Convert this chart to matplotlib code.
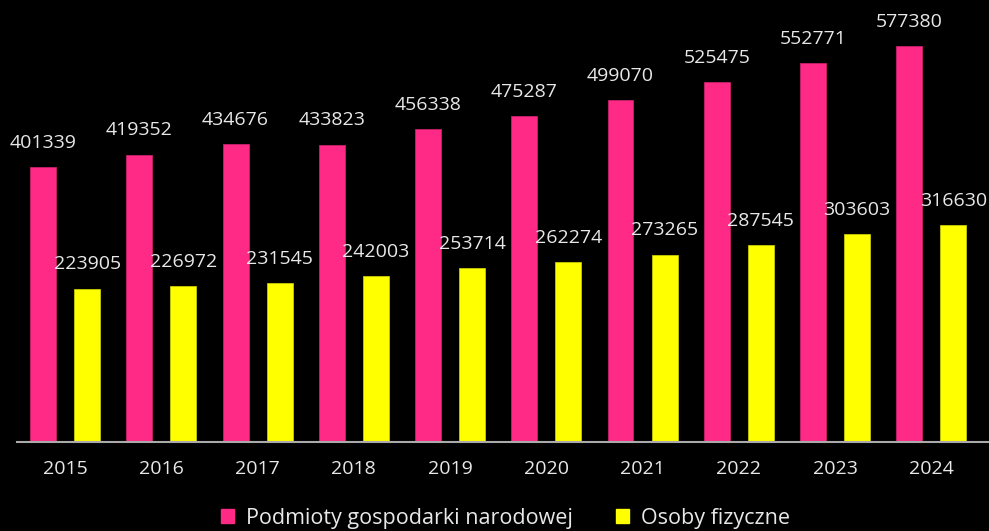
import numpy as np
import matplotlib
matplotlib.use("Agg")
import matplotlib.pyplot as plt
from matplotlib.patches import Patch

# dane
lata = ["2015", "2016", "2017", "2018", "2019", "2020", "2021", "2022", "2023", "2024"]
podmioty = [401339, 419352, 434676, 433823, 456338, 475287, 499070, 525475, 552771, 577380]
osoby = [223905, 226972, 231545, 242003, 253714, 262274, 273265, 287545, 303603, 316630]

kolor_podmioty = "#FF2A85"
kolor_osoby = "#FFFF00"
kolor_tekstu = "#E8E8E8"

plt.rcParams["font.family"] = ["Open Sans", "DejaVu Sans"]

fig = plt.figure(figsize=(9.89, 5.31), dpi=100, facecolor="black")
ax = fig.add_axes([17 / 989, 89 / 531, 972 / 989, 442 / 531])
ax.set_facecolor("black")

x = np.arange(len(lata))
szer = 0.27
off = 0.229
b1 = ax.bar(x - off, podmioty, szer, color=kolor_podmioty, edgecolor="#C8206A", linewidth=0.6,
            label="Podmioty gospodarki narodowej")
b2 = ax.bar(x + off, osoby, szer, color=kolor_osoby, edgecolor="#C8C800", linewidth=0.6,
            label="Osoby fizyczne")

for bars in (b1, b2):
    for r in bars:
        ax.annotate(str(int(r.get_height())), (r.get_x() + r.get_width() / 2, r.get_height()),
                    xytext=(0, 11), textcoords="offset points", ha="center", va="bottom",
                    color=kolor_tekstu, fontsize=14)

ax.set_xlim(-0.5, 9.6)
ax.set_ylim(0, 645000)
ax.set_xticks(x)
ax.set_xticklabels(lata, color=kolor_tekstu, fontsize=14)
ax.tick_params(axis="x", length=0, pad=13)
ax.set_yticks([])
for s in ["top", "right", "left"]:
    ax.spines[s].set_visible(False)
ax.spines["bottom"].set_color("#AAAAAA")
ax.spines["bottom"].set_linewidth(1.5)

handles = [Patch(color=kolor_podmioty), Patch(color=kolor_osoby)]
fig.legend(handles, ["Podmioty gospodarki narodowej", "Osoby fizyczne"], loc="lower center",
           bbox_to_anchor=(0.511, -0.032), ncol=2, frameon=False, fontsize=15.5,
           labelcolor=kolor_tekstu, handlelength=0.6, handleheight=0.6, handletextpad=0.55,
           columnspacing=2.0)

fig.savefig("out.png", dpi=100, facecolor="black")
